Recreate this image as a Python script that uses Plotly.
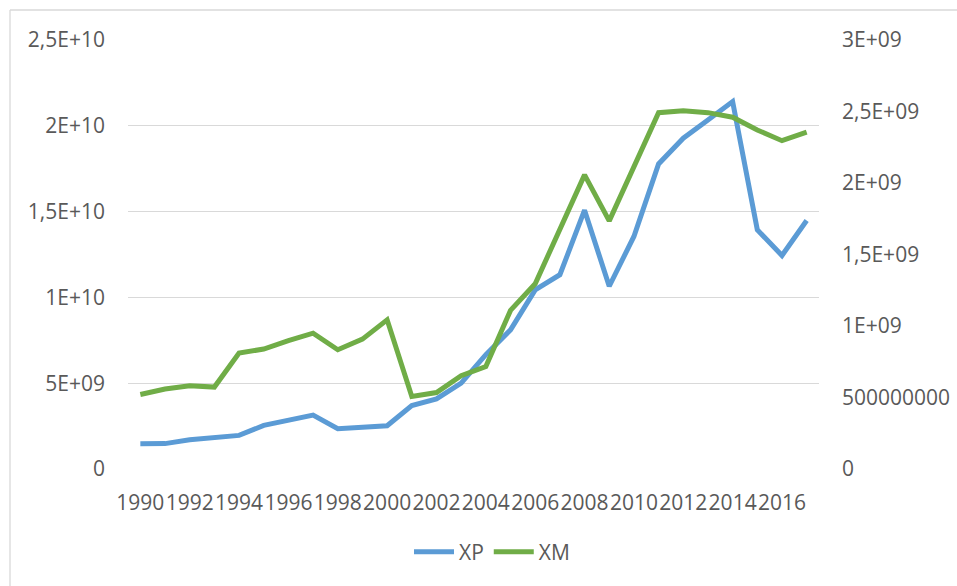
import plotly.graph_objects as go

years = list(range(1990, 2018))
xp = [1.47e9, 1.48e9, 1.71e9, 1.81e9, 1.96e9, 2.54e9, 2.83e9, 3.14e9, 2.35e9, 2.40e9,
      2.52e9, 3.70e9, 4.09e9, 5.00e9, 6.66e9, 8.11e9, 1.044e10, 1.132e10, 1.508e10, 1.065e10,
      1.355e10, 1.778e10, 1.928e10, 2.034e10, 2.141e10, 1.394e10, 1.244e10, 1.448e10]
xm = [5.21e8, 5.59e8, 5.82e8, 5.73e8, 8.11e8, 8.39e8, 8.97e8, 9.50e8, 8.34e8, 9.08e8,
      1.043e9, 5.07e8, 5.35e8, 6.52e8, 7.17e8, 1.109e9, 1.295e9, 1.67e9, 2.057e9, 1.735e9,
      2.115e9, 2.492e9, 2.506e9, 2.492e9, 2.46e9, 2.371e9, 2.296e9, 2.355e9]

x_ticks = list(range(1990, 2017, 2))
left_vals = [0, 5e9, 1e10, 1.5e10, 2e10, 2.5e10]
left_text = ["0", "5E+09", "1E+10", "1,5E+10", "2E+10", "2,5E+10"]
right_vals = [0, 5e8, 1e9, 1.5e9, 2e9, 2.5e9, 3e9]
right_text = ["0", "500000000", "1E+09", "1,5E+09", "2E+09", "2,5E+09", "3E+09"]

font_col = "#595959"
fnt = dict(family="Open Sans, Liberation Sans, sans-serif", size=21, color=font_col)

fig = go.Figure()
fig.add_trace(go.Scatter(x=years, y=xp, name="XP", mode="lines",
                         line=dict(color="#5B9BD5", width=5), yaxis="y"))
fig.add_trace(go.Scatter(x=years, y=xm, name="XM", mode="lines",
                         line=dict(color="#70AD47", width=5), yaxis="y2"))

L, R, T, B = 128, 138, 40, 117
W, H = 957, 586
pw = W - L - R
ph = H - T - B

def px_x(p):
    return (p - L) / pw

def px_y(p):
    return (T + ph - p) / ph

border = dict(color="#d9d9d9", width=1.3)

fig.update_layout(
    width=W, height=H,
    margin=dict(l=L, r=R, t=T, b=B, autoexpand=False),
    paper_bgcolor="white", plot_bgcolor="white",
    font=fnt,
    showlegend=True,
    legend=dict(orientation="h", x=px_x(492), xanchor="center",
                y=px_y(552), yanchor="middle",
                font=fnt, itemwidth=40, tracegroupgap=0),
    xaxis=dict(range=[1989.5, 2017.5], tickmode="array", tickvals=x_ticks,
               ticktext=[str(v) for v in x_ticks], tickangle=0,
               showgrid=False, zeroline=False, showline=False,
               ticks="", ticklabelstandoff=19, tickfont=fnt),
    yaxis=dict(range=[0, 2.5e10], tickmode="array", tickvals=left_vals, ticktext=left_text,
               showgrid=True, gridcolor="#d9d9d9", gridwidth=1.3, zeroline=False,
               showline=False, ticks="", ticklabelstandoff=22, tickfont=fnt),
    yaxis2=dict(range=[0, 3e9], overlaying="y", side="right", tickmode="array",
                tickvals=right_vals, ticktext=right_text, showgrid=False,
                zeroline=False, showline=False, ticks="", ticklabelstandoff=22,
                tickfont=fnt),
    shapes=[
        dict(type="line", xref="paper", yref="paper",
             x0=px_x(10), x1=px_x(W), y0=px_y(10), y1=px_y(10), line=border, layer="below"),
        dict(type="line", xref="paper", yref="paper",
             x0=px_x(10), x1=px_x(10), y0=px_y(10), y1=px_y(H), line=border, layer="below"),
    ],
)

fig.write_html("out.html", config={"displayModeBar": False},
               post_script="document.body.style.margin='0';document.body.style.overflow='hidden';")
